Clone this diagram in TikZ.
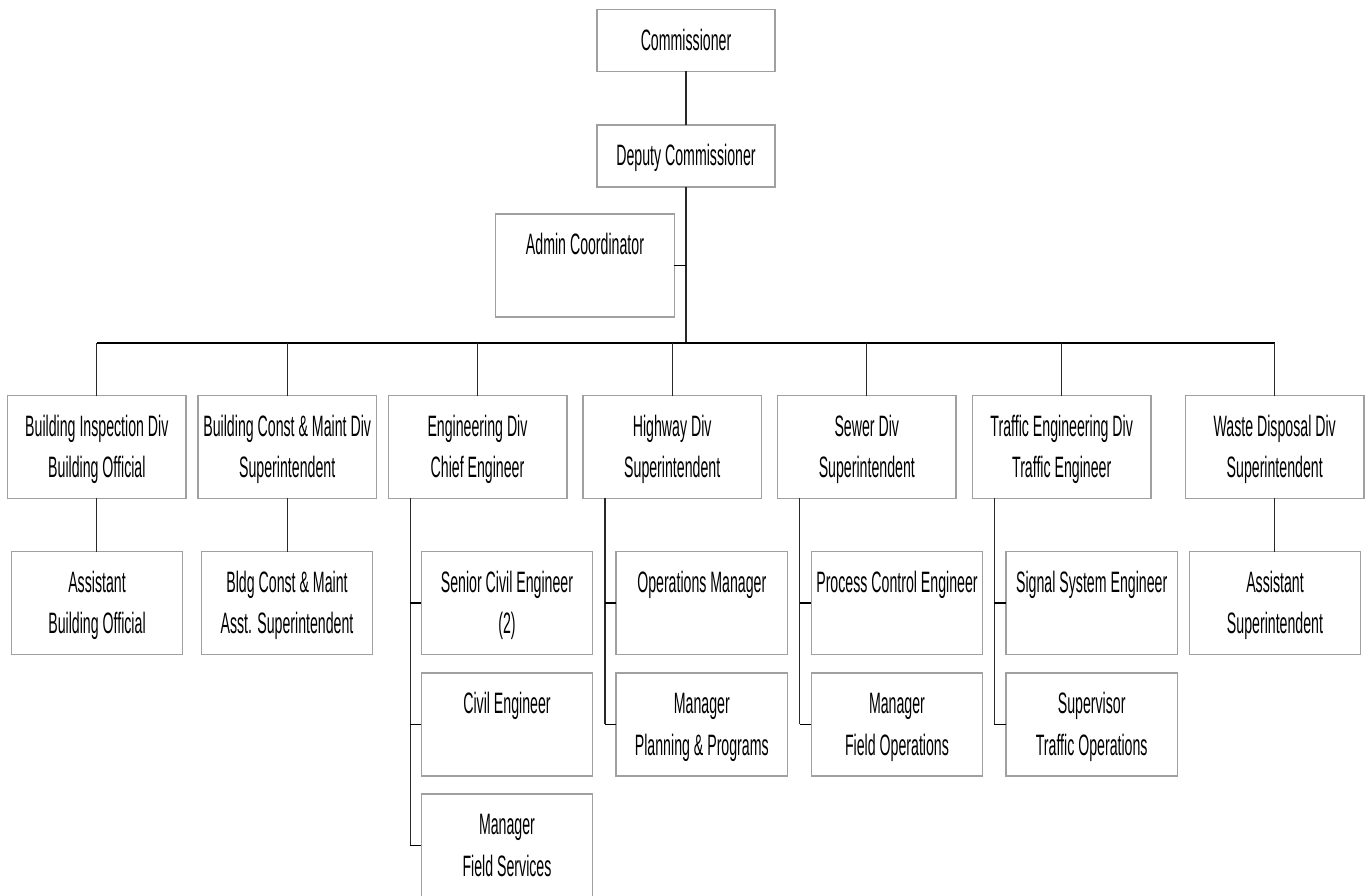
\documentclass[tikz,border=0pt]{standalone}
\usepackage{fontspec}
\setmainfont{Liberation Sans}[FakeStretch=0.48]
\usetikzlibrary{calc}

\definecolor{boxgray}{RGB}{160,160,160}
\definecolor{linegray}{RGB}{40,40,40}

% strut that fixes the height of the first text line
\newcommand{\firstline}{\rule{0pt}{22pt}}

% a box (empty node) with its caption hung from the top edge
\newcommand{\orgbox}[5]{%
  \node[box,#4] (#1) at (#2,#3) {};
  \node[lbl] (#1-t) at ([yshift=-18.5pt]#1.north) {\firstline #5};
}

\tikzset{
  box/.style={draw=boxgray, line width=1.5pt, fill=white, inner sep=0pt,
              outer sep=0pt, minimum width=178.5pt, minimum height=102.6pt},
  small/.style={minimum width=171.2pt, minimum height=103pt},
  lbl/.style={anchor=north, align=center, inner sep=0pt,
              font=\fontsize{29.5}{41.5}\selectfont},
  conn/.style={draw=linegray, line width=1.2pt},
  bus/.style={draw=black, line width=1.8pt},
  stub/.style={draw=black, line width=1.6pt},
}

\begin{document}
\begin{tikzpicture}[x=1pt, y=-1pt]
\clip (0,0) rectangle (1365,895);
\fill[white] (0,0) rectangle (1365,895);

% top of the chart
\orgbox{comm}{686}{40.3}{minimum width=178pt, minimum height=62pt}{Commissioner}
\orgbox{dep}{686}{155.9}{minimum width=178pt, minimum height=61.7pt}{Deputy Commissioner}
\orgbox{adm}{585}{265.4}{minimum width=178.6pt, minimum height=102.7pt}{Admin Coordinator}

% divisions
\orgbox{d1}{96.85}{447}{}{Building Inspection Div\\Building Official}
\orgbox{d2}{287.2}{447}{}{Building Const \& Maint Div\\Superintendent}
\orgbox{d3}{477.5}{447}{}{Engineering Div\\Chief Engineer}
\orgbox{d4}{672.2}{447}{}{Highway Div\\Superintendent}
\orgbox{d5}{866.8}{447}{}{Sewer Div\\Superintendent}
\orgbox{d6}{1061.7}{447}{}{Traffic Engineering Div\\Traffic Engineer}
\orgbox{d7}{1274.7}{447}{}{Waste Disposal Div\\Superintendent}

% staff under the divisions
\orgbox{a1}{97}{603.1}{small}{Assistant\\Building Official}
\orgbox{a2}{287}{603.1}{small}{Bldg Const \& Maint\\Asst. Superintendent}

\orgbox{e1}{507}{603.1}{small}{Senior Civil Engineer\\(2)}
\orgbox{e2}{507}{724.4}{small}{Civil Engineer}
\orgbox{e3}{507}{845.5}{small}{Manager\\Field Services}

\orgbox{h1}{701.8}{603.1}{small}{Operations Manager}
\orgbox{h2}{701.8}{724.4}{small}{Manager\\Planning \& Programs}

\orgbox{s1}{897}{603.1}{small}{Process Control Engineer}
\orgbox{s2}{897}{724.4}{small}{Manager\\Field Operations}

\orgbox{t1}{1091.7}{603.1}{small}{Signal System Engineer}
\orgbox{t2}{1091.7}{724.4}{small}{Supervisor\\Traffic Operations}

\orgbox{a7}{1275}{603.1}{small}{Assistant\\Superintendent}

% connectors
\coordinate (buslevel) at (0,343.3);
\draw[conn] (comm) -- (dep);
\draw[conn] (dep.south) -- (dep.south |- buslevel);
\draw[stub] (adm.east) -- (adm.east -| dep.south);
\draw[bus] (d1.north |- buslevel) -- (d7.north |- buslevel);
\foreach \d in {d1,d2,d3,d4,d5,d6,d7}
  \draw[conn] (\d.north |- buslevel) -- (\d.north);

\draw[conn] (d1.south) -- (d1.south |- a1.north);
\draw[conn] (d2.south) -- (d2.south |- a2.north);
\draw[conn] (d7.south) -- (d7.south |- a7.north);

% side spines with stubs
\coordinate (engsp) at ([xshift=22pt]d3.south west);
\coordinate (hwysp) at ([xshift=22pt]d4.south west);
\coordinate (swrsp) at ([xshift=22pt]d5.south west);
\coordinate (trfsp) at ([xshift=22pt]d6.south west);

\draw[conn] (engsp) -- (engsp |- e3.west);
\foreach \c in {e1,e2,e3} \draw[stub] (engsp |- \c.west) -- (\c.west);
\draw[conn] (hwysp) -- (hwysp |- h2.west);
\foreach \c in {h1,h2} \draw[stub] (hwysp |- \c.west) -- (\c.west);
\draw[conn] (swrsp) -- (swrsp |- s2.west);
\foreach \c in {s1,s2} \draw[stub] (swrsp |- \c.west) -- (\c.west);
\draw[conn] (trfsp) -- (trfsp |- t2.west);
\foreach \c in {t1,t2} \draw[stub] (trfsp |- \c.west) -- (\c.west);
\end{tikzpicture}
\end{document}
